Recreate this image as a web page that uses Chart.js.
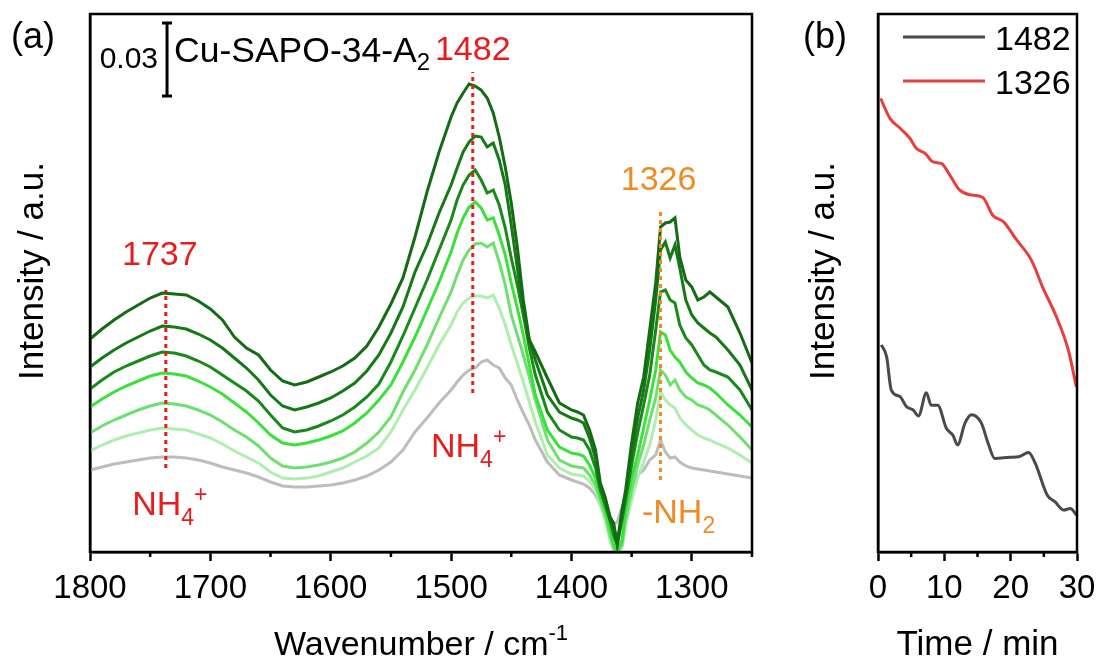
<!DOCTYPE html>
<html>
<head>
<meta charset="utf-8">
<script src="https://cdn.jsdelivr.net/npm/chart.js@4.4.0/dist/chart.umd.min.js"></script>
<style>
  body { margin: 0; background: #fff; width: 1096px; height: 664px; overflow: hidden; position: relative; }
  #wrapA { position: absolute; left: 0; top: 0; width: 770px; height: 664px; }
  #wrapB { position: absolute; left: 790px; top: 0; width: 306px; height: 664px; }
</style>
</head>
<body>
<div id="wrapA"><canvas id="chartA" width="770" height="664"></canvas></div>
<div id="wrapB"><canvas id="chartB" width="306" height="664"></canvas></div>
<script>
// panel (a): spectra, wavenumber in cm-1, intensity in arbitrary units
const wavenumbers = [1800,1790,1780,1770,1760,1750,1740,1730,1720,1710,1700,1690,1680,1670,1660,1650,1640,1630,1620,1610,
  1600,1590,1580,1570,1560,1550,1540,1530,1520,1510,1500,1495,1490,1485,1480,1475,1470,1465,1460,1455,1450,1445,1440,1435,1430,
  1420,1410,1400,1395,1390,1385,1380,1376,1372,1368,1365,1362,1358,1355,1350,1345,1340,1335,1330,1326,1322,1318,1314,1310,
  1305,1300,1295,1290,1285,1280,1270,1260,1250];

const spectrum1 = [85.2,89.2,92.8,96.0,98.8,101.6,103.6,103.2,102.8,100.4,97.2,92.8,86.0,81.6,78.8,72.8,68.4,66.8,68.0,70.0,
  72.0,74.4,77.6,82.4,90.0,99.2,109.6,126.0,144.0,160.0,174.0,179.6,183.6,187.2,186.4,184.8,181.6,175.6,166.0,154.0,139.6,122.0,100.8,84.8,80.0,
  69.6,59.6,56.8,56.0,54.8,48.8,40.8,27.6,22.0,14.0,11.6,3.6,16.8,24.8,43.6,59.6,70.0,88.8,107.6,130.0,131.6,132.0,133.6,118.0,
  108.8,106.0,100.8,102.0,104.0,102.0,98.0,87.6,75.6];
const spectrum2 = [74.0,77.6,80.8,83.6,86.0,88.4,90.4,90.0,89.2,87.2,84.8,81.6,77.6,73.6,68.8,62.8,58.4,56.8,58.0,59.6,
  61.6,64.4,67.6,72.4,78.8,87.6,98.0,112.0,122.8,135.6,146.8,153.6,160.0,164.0,166.4,166.0,162.0,163.6,156.8,146.8,130.8,113.6,96.8,84.8,76.8,
  62.8,56.0,53.6,52.8,51.6,45.6,37.6,26.0,20.8,12.8,9.6,2.8,14.8,22.8,38.8,53.6,64.8,80.8,100.8,120.8,124.0,117.6,122.8,113.6,
  100.8,94.8,91.6,89.6,87.6,86.0,80.8,74.8,64.8];
const spectrum3 = [65.2,68.8,72.0,74.4,76.4,78.4,80.0,79.6,78.4,76.4,74.0,70.8,67.6,64.4,60.4,54.8,49.6,48.0,48.8,50.4,
  52.4,54.8,58.0,62.0,67.2,76.0,86.4,97.6,108.8,120.8,132.8,140.8,146.8,150.8,152.8,148.8,143.6,144.8,138.8,129.6,117.6,106.8,94.8,81.6,70.8,
  56.0,48.8,46.0,45.6,44.8,40.8,33.6,24.8,18.8,12.8,6.8,2.8,12.8,20.8,34.8,47.6,58.8,70.8,88.8,104.0,104.8,100.8,99.6,90.8,
  85.6,82.8,78.8,74.8,72.8,72.0,70.0,64.8,56.8];
const spectrum4 = [58.0,61.2,64.0,66.4,68.4,70.4,71.6,71.2,70.4,68.4,66.0,63.2,59.6,56.0,51.6,46.8,43.6,42.8,43.6,44.8,
  46.4,48.4,51.6,55.6,60.8,66.8,76.0,86.0,96.8,108.0,120.0,127.6,133.6,138.0,140.0,137.6,132.8,133.6,126.8,118.8,107.6,97.6,86.8,74.8,62.8,
  48.8,42.0,39.6,39.2,38.4,34.8,29.6,22.8,16.8,9.6,2.8,0.0,4.8,16.8,29.6,38.8,49.6,60.8,72.8,88.0,86.8,80.8,78.0,76.0,
  72.0,69.6,67.6,66.8,65.6,63.6,58.8,54.8,50.0];
const spectrum5 = [47.6,50.4,52.8,54.8,56.8,58.4,59.6,59.2,58.4,56.8,54.8,52.0,48.8,46.0,42.4,37.6,34.4,33.6,34.0,34.8,
  36.0,37.6,40.0,43.6,48.0,54.0,64.0,72.8,82.8,93.6,104.0,110.8,116.8,120.8,123.2,123.6,122.0,123.6,116.0,106.8,94.8,86.8,78.8,70.0,60.8,
  44.8,36.8,34.4,34.0,33.6,30.8,26.8,20.8,14.8,6.8,1.6,0.0,2.8,12.8,24.8,34.8,42.8,52.8,61.6,72.8,70.8,66.8,68.8,64.8,
  62.0,60.8,58.8,58.0,56.8,54.8,50.8,46.0,40.8];
const spectrum6 = [40.4,42.8,44.8,46.4,47.6,48.8,49.6,49.2,48.8,47.2,45.6,43.2,40.4,38.0,35.6,32.0,29.6,29.2,29.6,30.4,
  32.0,33.6,36.0,38.4,41.6,48.0,56.8,64.8,73.6,82.8,90.8,96.0,99.6,101.6,102.4,102.4,101.6,102.8,97.6,90.8,82.8,75.6,68.0,60.0,52.0,
  38.8,33.6,31.2,30.8,30.4,28.4,24.8,18.8,12.8,4.8,0.8,0.0,1.6,10.8,20.8,29.6,36.0,42.8,52.8,64.0,60.8,58.8,57.6,53.6,
  50.8,48.8,46.8,45.6,44.8,43.6,41.6,38.8,35.6];
const spectrum7 = [32.8,34.0,35.2,36.0,36.8,37.6,38.0,38.0,37.6,36.8,35.6,34.0,32.8,31.6,30.0,28.0,26.4,26.0,26.0,26.4,
  26.8,27.6,28.8,30.4,32.8,36.0,40.8,48.0,53.6,59.6,64.8,68.0,70.8,72.8,73.6,76.0,76.8,74.8,73.6,69.6,66.8,60.8,55.6,50.8,44.8,
  36.0,30.8,28.8,28.0,27.2,25.6,22.8,18.8,20.8,14.8,10.8,12.0,18.0,20.8,24.8,30.8,32.8,36.8,38.8,44.8,40.0,37.6,38.0,36.0,
  34.4,33.6,33.2,32.8,32.4,32.0,31.2,30.4,29.6];

const spectra = [spectrum1, spectrum2, spectrum3, spectrum4, spectrum5, spectrum6, spectrum7];
const spectraColors = ['#136b13', '#157a15', '#198a19', '#3be03b', '#6fe06f', '#aeeeae', '#bdbdbd'];

// panel (b): band intensity vs time
const time1482 = [0.5,1.3,2.0,3.3,4.3,5.3,6.1,7.3,8.0,9.0,10.3,11.3,12.0,13.1,14.1,15.6,16.6,17.6,19.9,21.2,22.7,23.7,25.5,26.7,28.0,29.0,29.9];
const intensity1482 = [38.5,36.3,30.1,28.9,27.0,26.4,25.3,29.6,27.3,27.3,23.0,21.7,19.9,23.9,25.5,23.9,20.2,17.4,17.6,17.7,18.5,16.5,10.6,9.3,7.8,8.1,6.9];
const time1326 = [0.4,1.8,3.3,4.8,5.8,7.1,8.3,9.6,10.8,12.3,13.8,15.8,17.3,18.9,20.9,23.1,24.9,26.9,28.7,29.9];
const intensity1326 = [84.3,80.6,78.8,76.9,75.0,74.1,72.5,72.2,70.1,67.3,66.4,65.9,62.6,61.4,58.0,54.3,49.0,43.7,37.5,30.7];

// markers drawn on panel (a)
const markerRed = '#e81c1c';
const markerOrange = '#f08a24';
const scaleBarUnits = 29.2; // height of the 0.03 bar in y units

const FONT = '"Liberation Sans", Arial, sans-serif';
Chart.defaults.font.family = FONT;
Chart.defaults.color = '#000';

function richText(ctx, x, y, parts, color, align) {
  let total = 0;
  for (const [t, size] of parts) { ctx.font = size + 'px ' + FONT; total += ctx.measureText(t).width; }
  let cx = align === 'center' ? x - total / 2 : align === 'right' ? x - total : x;
  ctx.fillStyle = color;
  ctx.textAlign = 'left';
  ctx.textBaseline = 'alphabetic';
  for (const [t, size, dy] of parts) {
    ctx.font = size + 'px ' + FONT;
    ctx.fillText(t, cx, y + (dy || 0));
    cx += ctx.measureText(t).width;
  }
}

function dottedLine(ctx, px, y1, y2, color) {
  ctx.save();
  ctx.strokeStyle = color;
  ctx.lineWidth = 3;
  ctx.setLineDash([4, 4]);
  ctx.beginPath();
  ctx.moveTo(px, y1);
  ctx.lineTo(px, y2);
  ctx.stroke();
  ctx.restore();
}

function frameAndMinor(chart, isMinor) {
  const {ctx, chartArea: a, scales: {x}} = chart;
  ctx.save();
  ctx.strokeStyle = '#000';
  ctx.lineWidth = 2.5;
  ctx.strokeRect(a.left, a.top, a.right - a.left, a.bottom - a.top);
  ctx.beginPath();
  x.ticks.forEach(t => {
    if (isMinor(t.value)) {
      const px = x.getPixelForValue(t.value);
      ctx.moveTo(px, a.bottom);
      ctx.lineTo(px, a.bottom + 5);
    }
  });
  ctx.stroke();
  ctx.restore();
}

function yTitle(ctx, cx, cy, text) {
  ctx.save();
  ctx.translate(cx, cy);
  ctx.rotate(-Math.PI / 2);
  ctx.font = '35px ' + FONT;
  ctx.fillStyle = '#000';
  ctx.textAlign = 'center';
  ctx.textBaseline = 'middle';
  ctx.fillText(text, 0, 0);
  ctx.restore();
}

const annotateA = {
  id: 'annotateA',
  afterDraw(chart) {
    const {ctx, chartArea: a, scales: {x, y}} = chart;
    frameAndMinor(chart, v => v % 100 !== 0);
    const X = v => x.getPixelForValue(v);
    const Y = v => y.getPixelForValue(v);

    dottedLine(ctx, X(1737), Y(33.6), Y(104.8), markerRed);
    dottedLine(ctx, X(1482), Y(63.6), Y(192), markerRed);
    dottedLine(ctx, X(1326), Y(28.8), Y(136.8), markerOrange);

    richText(ctx, X(1742), Y(114.8), [['1737', 34]], markerRed, 'center');
    richText(ctx, X(1482), Y(196.8), [['1482', 34]], markerRed, 'center');
    richText(ctx, X(1327.6), Y(144.8), [['1326', 34]], markerOrange, 'center');
    richText(ctx, X(1765), Y(14.8), [['NH', 34], ['4', 23, 10], ['+', 23, -13]], markerRed);
    richText(ctx, X(1516.7), Y(38), [['NH', 34], ['4', 23, 10], ['+', 23, -13]], markerRed);
    richText(ctx, X(1341.4), Y(11.6), [['-NH', 34], ['2', 23, 10]], markerOrange);

    // 0.03 scale bar
    const bx = X(1736), bTop = Y(211.6), bBot = Y(211.6 - scaleBarUnits);
    ctx.save();
    ctx.strokeStyle = '#000';
    ctx.lineWidth = 3;
    ctx.beginPath();
    ctx.moveTo(bx, bTop); ctx.lineTo(bx, bBot);
    ctx.moveTo(bx - 5, bTop); ctx.lineTo(bx + 5, bTop);
    ctx.moveTo(bx - 5, bBot); ctx.lineTo(bx + 5, bBot);
    ctx.stroke();
    ctx.restore();
    richText(ctx, bx - 9, Y(193.6), [['0.03', 30]], '#000', 'right');
    richText(ctx, bx + 7, Y(196), [['Cu-SAPO-34-A', 35.5], ['2', 24, 8]], '#000');

    richText(ctx, 11, 48, [['(a)', 36]], '#000');
    yTitle(ctx, 33, 271, 'Intensity / a.u.');
    richText(ctx, (a.left + a.right) / 2, 655, [['Wavenumber / cm', 34], ['-1', 22, -15]], '#000', 'center');
  }
};

const annotateB = {
  id: 'annotateB',
  afterDraw(chart) {
    const {ctx, chartArea: a} = chart;
    frameAndMinor(chart, v => v % 10 !== 0);
    ctx.save();
    ctx.lineWidth = 3;
    chart.data.datasets.forEach((ds, i) => {
      const ly = 37 + i * 44;
      ctx.strokeStyle = ds.borderColor;
      ctx.beginPath();
      ctx.moveTo(a.left + 25, ly);
      ctx.lineTo(a.left + 107, ly);
      ctx.stroke();
      richText(ctx, a.left + 117, ly + 13, [[ds.label, 34]], '#000');
    });
    ctx.restore();
    richText(ctx, 13, 48, [['(b)', 36]], '#000');
    yTitle(ctx, 34, 271, 'Intensity / a.u.');
    richText(ctx, (a.left + a.right) / 2, 655, [['Time / min', 35]], '#000', 'center');
  }
};

const tickFont = {size: 33};

new Chart(document.getElementById('chartA'), {
  type: 'line',
  data: {
    datasets: spectra.map((s, i) => ({
      label: 'spectrum ' + (i + 1),
      data: wavenumbers.map((w, j) => ({x: w, y: s[j]})),
      borderColor: spectraColors[i],
      borderWidth: 3,
      pointRadius: 0,
      tension: 0,
      fill: false
    }))
  },
  options: {
    responsive: false,
    animation: false,
    devicePixelRatio: 1,
    layout: {padding: {top: 14, right: 18, left: 0, bottom: 0}},
    plugins: {legend: {display: false}, tooltip: {enabled: false}},
    scales: {
      x: {
        type: 'linear', min: 1250, max: 1800, reverse: true,
        ticks: {
          stepSize: 50, autoSkip: false, maxRotation: 0, minRotation: 0, padding: 8,
          font: tickFont, color: '#000',
          callback: v => (v % 100 === 0 ? String(v) : '')
        },
        grid: {
          drawOnChartArea: false, drawTicks: true, tickLength: 9, tickWidth: 2.5,
          tickColor: c => (c.tick && c.tick.value % 100 === 0 ? '#000' : 'rgba(0,0,0,0)')
        },
        border: {display: true, color: '#000', width: 2.5},
        afterFit: s => { s.height = 112; s.paddingLeft = 0; s.paddingRight = 0; }
      },
      y: {
        min: 0, max: 215.2,
        ticks: {display: false},
        grid: {display: false},
        border: {display: true, color: '#000', width: 2.5},
        afterFit: s => { s.width = 90; }
      }
    }
  },
  plugins: [annotateA]
});

new Chart(document.getElementById('chartB'), {
  type: 'line',
  data: {
    datasets: [
      {label: '1482', data: time1482.map((t, i) => ({x: t, y: intensity1482[i]})), borderColor: '#4a4a4a'},
      {label: '1326', data: time1326.map((t, i) => ({x: t, y: intensity1326[i]})), borderColor: '#e5403f'}
    ].map(d => Object.assign(d, {borderWidth: 3, pointRadius: 0, tension: 0.4, cubicInterpolationMode: 'monotone', fill: false}))
  },
  options: {
    responsive: false,
    animation: false,
    devicePixelRatio: 1,
    layout: {padding: {top: 14, right: 19, left: 0, bottom: 0}},
    plugins: {legend: {display: false}, tooltip: {enabled: false}},
    scales: {
      x: {
        type: 'linear', min: 0, max: 30,
        ticks: {
          stepSize: 5, autoSkip: false, maxRotation: 0, minRotation: 0, padding: 8,
          font: tickFont, color: '#000',
          callback: v => (v % 10 === 0 ? String(v) : '')
        },
        grid: {
          drawOnChartArea: false, drawTicks: true, tickLength: 9, tickWidth: 2.5,
          tickColor: c => (c.tick && c.tick.value % 10 === 0 ? '#000' : 'rgba(0,0,0,0)')
        },
        border: {display: true, color: '#000', width: 2.5},
        afterFit: s => { s.height = 112; s.paddingLeft = 0; s.paddingRight = 0; }
      },
      y: {
        min: 0, max: 100,
        ticks: {display: false},
        grid: {display: false},
        border: {display: true, color: '#000', width: 2.5},
        afterFit: s => { s.width = 88; }
      }
    }
  },
  plugins: [annotateB]
});
</script>
</body>
</html>
